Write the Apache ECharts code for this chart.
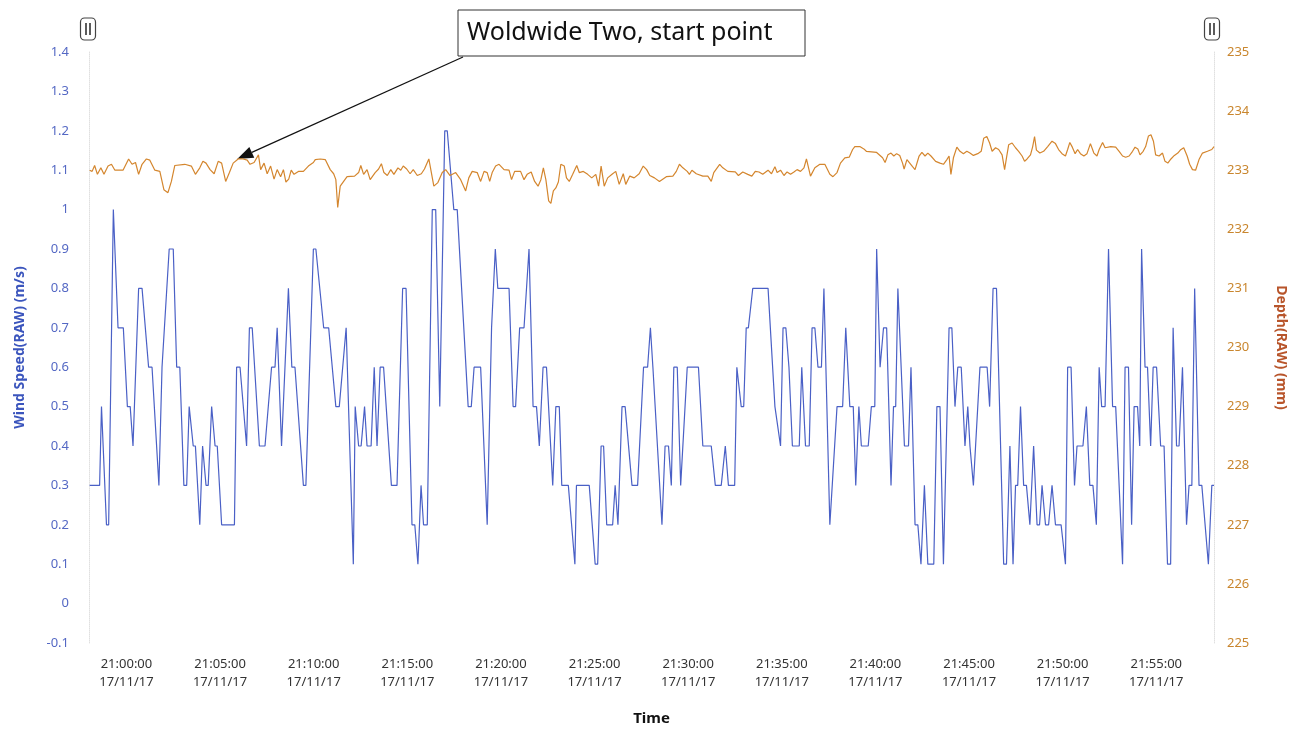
<!DOCTYPE html>
<html>
<head>
<meta charset="utf-8">
<script src="https://cdn.jsdelivr.net/npm/echarts@6/dist/echarts.min.js"></script>
<style>
html,body{margin:0;padding:0;background:#fff;}
#c{width:1300px;height:731px;}
</style>
</head>
<body>
<div id="c"></div>
<script>
// ---- DATA (time = seconds relative to 21:00:00 on 17/11/17) ----
const windTime = [
  -118,-86,-80,-64,-57,-42,-27,-10,3,12,
  21,39,50,71,82,104,114,137,150,161,
  171,184,193,201,214,221,235,244,255,262,
  273,284,291,305,346,353,364,385,394,403,
  426,444,465,476,483,497,519,530,540,567,
  575,599,607,632,648,671,682,704,710,727,
  733,744,752,763,771,784,794,803,813,824,
  849,867,885,896,915,924,934,944,952,964,
  980,991,1004,1020,1028,1049,1060,1095,1105,1114,
  1135,1156,1170,1175,1182,1190,1226,1239,1247,1260,
  1274,1290,1303,1314,1323,1335,1346,1366,1376,1387,
  1395,1416,1437,1442,1483,1502,1510,1521,1529,1539,
  1558,1566,1575,1588,1598,1620,1638,1657,1670,1679,
  1687,1716,1726,1737,1746,1754,1765,1776,1797,1833,
  1847,1874,1887,1906,1919,1929,1949,1956,1970,1978,
  1986,1993,2007,2056,2078,2096,2104,2113,2123,2134,
  2156,2164,2176,2188,2197,2206,2216,2227,2235,2254,
  2259,2277,2295,2305,2318,2329,2337,2347,2355,2377,
  2387,2398,2404,2415,2426,2436,2450,2458,2465,2472,
  2493,2506,2514,2527,2536,2546,2557,2568,2587,2597,
  2607,2618,2636,2645,2655,2664,2675,2687,2696,2703,
  2714,2735,2758,2766,2777,2788,2811,2820,2831,2841,
  2849,2856,2865,2875,2884,2895,2907,2918,2926,2934,
  2945,2955,2966,2977,2995,3009,3016,3027,3038,3046,
  3065,3076,3087,3097,3108,3117,3125,3136,3147,3160,
  3170,3192,3200,3211,3221,3229,3240,3247,3253,3264,
  3272,3282,3290,3301,3314,3325,3336,3346,3354,3365,
  3373,3384,3397,3405,3414,3423,3437,3446,3467,3478,
  3485
];
const windSpeed = [
  0.3,0.3,0.5,0.2,0.2,1.0,0.7,0.7,0.5,0.5,
  0.4,0.8,0.8,0.6,0.6,0.3,0.6,0.9,0.9,0.6,
  0.6,0.3,0.3,0.5,0.4,0.4,0.2,0.4,0.3,0.3,
  0.5,0.4,0.4,0.2,0.2,0.6,0.6,0.4,0.7,0.7,
  0.4,0.4,0.6,0.6,0.7,0.4,0.8,0.6,0.6,0.3,
  0.3,0.9,0.9,0.7,0.7,0.5,0.5,0.7,0.7,0.1,
  0.5,0.4,0.4,0.5,0.4,0.4,0.6,0.4,0.6,0.6,
  0.3,0.3,0.8,0.8,0.2,0.2,0.1,0.3,0.2,0.2,
  1.0,1.0,0.5,1.2,1.2,1.0,1.0,0.5,0.5,0.6,
  0.6,0.2,0.7,0.7,0.9,0.8,0.8,0.5,0.5,0.7,
  0.7,0.9,0.5,0.5,0.4,0.6,0.6,0.3,0.5,0.5,
  0.3,0.3,0.1,0.3,0.3,0.1,0.1,0.4,0.4,0.2,
  0.2,0.3,0.2,0.5,0.5,0.3,0.3,0.6,0.6,0.7,
  0.6,0.2,0.4,0.4,0.3,0.6,0.6,0.3,0.6,0.6,
  0.4,0.4,0.3,0.3,0.4,0.3,0.3,0.6,0.5,0.5,
  0.7,0.7,0.8,0.8,0.5,0.4,0.7,0.7,0.6,0.4,
  0.4,0.6,0.4,0.4,0.7,0.7,0.6,0.6,0.8,0.2,
  0.2,0.5,0.5,0.7,0.5,0.5,0.3,0.5,0.4,0.4,
  0.5,0.5,0.9,0.6,0.7,0.7,0.3,0.5,0.5,0.8,
  0.4,0.4,0.6,0.2,0.2,0.1,0.3,0.1,0.1,0.5,
  0.5,0.1,0.7,0.7,0.5,0.6,0.6,0.4,0.5,0.4,
  0.3,0.6,0.6,0.5,0.8,0.8,0.1,0.1,0.4,0.1,
  0.3,0.3,0.5,0.3,0.3,0.2,0.4,0.2,0.2,0.3,
  0.2,0.2,0.3,0.2,0.2,0.1,0.6,0.6,0.3,0.4,
  0.4,0.5,0.3,0.3,0.2,0.6,0.5,0.5,0.9,0.5,
  0.5,0.1,0.6,0.6,0.2,0.5,0.5,0.4,0.9,0.6,
  0.6,0.4,0.6,0.6,0.4,0.4,0.1,0.1,0.7,0.4,
  0.4,0.6,0.2,0.3,0.3,0.8,0.3,0.3,0.1,0.3,
  0.3
];
const depthTime = [
  -118,-110,-102,-93,-82,-72,-59,-48,-37,-11,
  7,18,29,39,50,64,75,91,107,120,
  133,144,155,187,208,221,235,245,255,268,
  281,294,305,318,330,342,358,374,387,396,
  409,423,430,441,451,462,473,483,494,503,
  511,520,528,537,551,567,583,599,605,621,
  637,653,664,671,677,685,696,707,731,744,
  751,760,771,781,797,808,817,825,836,847,
  857,870,879,887,898,909,919,932,945,955,
  969,985,998,1012,1023,1037,1055,1071,1087,1097,
  1108,1124,1135,1146,1156,1164,1172,1183,1194,1210,
  1226,1234,1244,1263,1274,1284,1297,1308,1319,1328,
  1336,1344,1353,1360,1368,1376,1384,1392,1403,1410,
  1419,1430,1443,1451,1464,1478,1491,1504,1513,1521,
  1531,1542,1556,1568,1579,1592,1600,1613,1627,1643,
  1656,1667,1677,1692,1708,1730,1751,1762,1772,1783,
  1797,1804,1812,1826,1847,1863,1874,1882,1901,1911,
  1927,1951,1961,1975,1991,2004,2015,2027,2039,2056,
  2067,2078,2085,2096,2107,2117,2128,2139,2149,2160,
  2171,2179,2192,2206,2222,2238,2254,2264,2277,2288,
  2302,2316,2327,2334,2350,2363,2371,2404,2423,2431,
  2440,2450,2459,2468,2478,2487,2492,2501,2510,2519,
  2527,2540,2549,2559,2568,2578,2593,2607,2618,2629,
  2636,2642,2650,2661,2671,2682,2693,2703,2714,2728,
  2739,2747,2757,2766,2774,2785,2795,2806,2814,2820,
  2827,2838,2849,2859,2870,2878,2886,2897,2904,2910,
  2916,2927,2939,2952,2966,2977,2987,2998,3009,3016,
  3023,3031,3040,3048,3057,3068,3078,3089,3100,3110,
  3117,3128,3136,3154,3170,3181,3192,3202,3213,3224,
  3232,3241,3248,3258,3266,3275,3283,3291,3298,3309,
  3320,3328,3337,3347,3358,3369,3377,3388,3399,3407,
  3416,3426,3437,3448,3464,3478,3485
];
const depthValue = [
  233.0,232.98,233.08,232.93,233.04,232.93,233.07,233.1,233.0,233.0,
  233.19,233.1,233.13,232.93,233.1,233.19,233.17,233.0,232.98,232.67,
  232.62,232.81,233.08,233.1,233.07,232.93,233.04,233.15,233.12,233.01,
  232.94,233.15,233.12,232.81,232.96,233.12,233.19,233.19,233.17,233.1,
  233.13,233.26,233.01,233.12,232.94,233.07,232.85,233.01,232.89,233.01,
  232.8,232.85,233.0,232.93,232.98,232.98,233.07,233.13,233.18,233.19,
  233.18,233.01,232.94,232.84,232.37,232.73,232.81,232.89,232.9,232.96,
  233.08,232.93,233.01,232.84,232.96,233.02,233.11,232.96,232.91,233.01,
  232.93,233.04,233.0,233.07,233.02,232.94,233.01,232.91,232.94,233.02,
  233.19,232.73,232.79,232.96,233.01,232.91,232.96,232.84,232.65,232.87,
  232.98,232.96,232.81,232.98,232.96,232.81,232.96,233.07,233.1,233.01,
  233.0,232.84,232.98,232.98,232.84,232.93,232.97,232.81,232.73,232.84,
  233.04,232.84,232.48,232.44,232.65,232.7,232.8,233.1,233.07,232.87,
  232.81,232.93,233.08,232.96,232.98,232.93,232.87,232.93,232.73,233.07,
  232.73,232.87,232.93,232.98,232.76,232.94,232.76,232.9,232.87,232.94,
  233.07,233.01,232.91,232.87,232.81,232.89,232.9,232.98,233.1,233.04,
  232.98,232.93,233.0,232.94,232.9,232.9,232.81,232.96,233.1,233.04,
  232.98,232.97,232.91,232.97,232.93,232.9,232.98,232.97,232.93,233.0,
  232.94,233.06,232.96,233.0,232.91,232.97,232.93,232.97,233.01,232.98,
  233.04,233.19,232.9,233.04,233.1,233.1,232.93,232.89,232.96,233.12,
  233.21,233.22,233.35,233.4,233.4,233.36,233.32,233.3,233.21,233.13,
  233.26,233.29,233.24,233.28,233.25,233.12,233.02,233.18,233.12,233.06,
  233.01,233.24,233.3,233.24,233.29,233.24,233.15,233.12,233.1,233.18,
  233.24,232.93,233.21,233.39,233.32,233.28,233.32,233.29,233.25,233.28,
  233.32,233.54,233.57,233.46,233.32,233.38,233.35,233.26,233.01,233.21,
  233.43,233.46,233.38,233.32,233.24,233.15,233.19,233.26,233.4,233.57,
  233.34,233.29,233.32,233.4,233.49,233.45,233.35,233.28,233.24,233.35,
  233.47,233.39,233.28,233.35,233.28,233.24,233.28,233.45,233.29,233.24,
  233.35,233.47,233.38,233.4,233.39,233.32,233.24,233.22,233.24,233.32,
  233.39,233.36,233.26,233.32,233.4,233.58,233.6,233.49,233.26,233.24,
  233.29,233.15,233.12,233.19,233.25,233.29,233.34,233.38,233.24,233.1,
  233.01,233.0,233.18,233.29,233.32,233.35,233.4
];
const xTickSeconds = [0,300,600,900,1200,1500,1800,2100,2400,2700,3000,3300];
const xTickTimes = ['21:00:00','21:05:00','21:10:00','21:15:00','21:20:00','21:25:00',
                    '21:30:00','21:35:00','21:40:00','21:45:00','21:50:00','21:55:00'];
const xTickDate = '17/11/17';
const annotationText = 'Woldwide Two, start point';
const annotationTime = 355;
const annotationDepth = 233.19;

// ---- CHART ----
const FONT = '"Noto Sans", "Open Sans", "DejaVu Sans", sans-serif';
const windData = windTime.map((t, i) => [t, windSpeed[i]]);
const depthData = depthTime.map((t, i) => [t, depthValue[i]]);

const chart = echarts.init(document.getElementById('c'), null, {renderer: 'canvas'});
const option = {
  animation: false,
  backgroundColor: '#ffffff',
  textStyle: {fontFamily: FONT},
  grid: {left: 89, right: 86, top: 52, bottom: 86, containLabel: false},
  xAxis: {
    type: 'value', min: -120, max: 3485,
    name: 'Time', nameLocation: 'middle', nameGap: 68,
    nameTextStyle: {fontWeight: 'bold', fontSize: 15, color: '#111', fontFamily: FONT},
    axisLine: {show: false}, axisTick: {show: false}, splitLine: {show: false},
    axisLabel: {
      customValues: xTickSeconds,
      formatter: function (v) {
        const i = xTickSeconds.indexOf(Math.round(v));
        return i < 0 ? '' : xTickTimes[i] + '\n' + xTickDate;
      },
      color: '#333', fontSize: 13, lineHeight: 18, margin: 12, fontFamily: FONT
    }
  },
  yAxis: [
    {
      type: 'value', min: -0.1, max: 1.4, interval: 0.1, position: 'left',
      name: 'Wind Speed(RAW) (m/s)', nameLocation: 'middle', nameRotate: 90, nameGap: 62,
      nameTextStyle: {color: '#3b55bd', fontWeight: 'bold', fontSize: 14, fontFamily: FONT},
      axisLine: {show: true, onZero: false, lineStyle: {color: '#e0e0e0', type: 'dotted', width: 1}},
      axisTick: {show: false}, splitLine: {show: false},
      axisLabel: {
        color: '#5468c4', fontSize: 13, margin: 20, fontFamily: FONT,
        formatter: v => String(Number(v.toFixed(1)))
      }
    },
    {
      type: 'value', min: 225, max: 235, interval: 1, position: 'right',
      name: 'Depth(RAW) (mm)', nameLocation: 'middle', nameRotate: -90, nameGap: 60,
      nameTextStyle: {color: '#b8552b', fontWeight: 'bold', fontSize: 14, fontFamily: FONT},
      axisLine: {show: true, onZero: false, lineStyle: {color: '#e0e0e0', type: 'dotted', width: 1}},
      axisTick: {show: false}, splitLine: {show: false},
      axisLabel: {color: '#c9862e', fontSize: 13, margin: 13, fontFamily: FONT}
    }
  ],
  series: [
    {
      name: 'Wind Speed', type: 'line', yAxisIndex: 0, data: windData,
      symbol: 'none', silent: true,
      lineStyle: {color: '#4a60c6', width: 1.2}
    },
    {
      name: 'Depth', type: 'line', yAxisIndex: 1, data: depthData,
      symbol: 'none', silent: true,
      lineStyle: {color: '#d4862e', width: 1.2}
    }
  ]
};
chart.setOption(option);

// ---- Annotation & axis icons ----
const tip = chart.convertToPixel({seriesIndex: 1}, [annotationTime, annotationDepth]);
const start = [463, 57];
const dx = tip[0] - start[0], dy = tip[1] - start[1];
const len = Math.sqrt(dx * dx + dy * dy);
const ux = dx / len, uy = dy / len;
const L = 16, W = 6;
const bx = tip[0] - ux * L, by = tip[1] - uy * L;
const nx = -uy, ny = ux;

function axisIcon(cx, cy) {
  return {
    type: 'group',
    children: [
      {type: 'rect', shape: {x: cx - 7.5, y: cy - 11, width: 15, height: 22, r: 4},
       style: {fill: '#fff', stroke: '#444', lineWidth: 1.2}},
      {type: 'line', shape: {x1: cx - 2, y1: cy - 6, x2: cx - 2, y2: cy + 6},
       style: {stroke: '#333', lineWidth: 1.6}},
      {type: 'line', shape: {x1: cx + 2, y1: cy - 6, x2: cx + 2, y2: cy + 6},
       style: {stroke: '#333', lineWidth: 1.6}}
    ]
  };
}

chart.setOption({
  graphic: [
    axisIcon(88, 29),
    axisIcon(1212, 29),
    {type: 'rect', shape: {x: 458, y: 10, width: 347, height: 46},
     style: {fill: '#fff', stroke: '#333', lineWidth: 1}},
    {type: 'text', x: 467, y: 33,
     style: {text: annotationText, font: '25px ' + FONT, fill: '#111', verticalAlign: 'middle'}},
    {type: 'line', shape: {x1: start[0], y1: start[1], x2: bx, y2: by},
     style: {stroke: '#111', lineWidth: 1.2}},
    {type: 'polygon', shape: {points: [[tip[0], tip[1]], [bx + nx * W, by + ny * W], [bx - nx * W, by - ny * W]]},
     style: {fill: '#111'}}
  ]
});
</script>
</body>
</html>
